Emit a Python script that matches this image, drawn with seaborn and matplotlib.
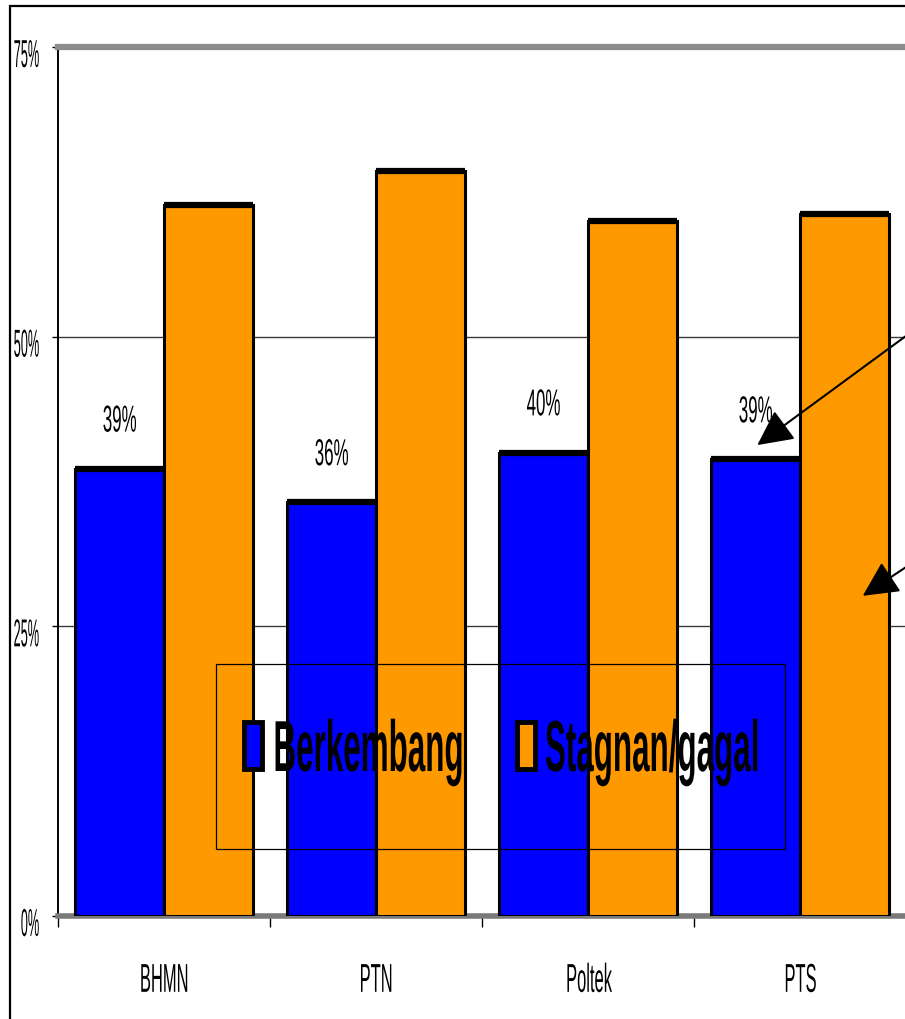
import matplotlib
matplotlib.use("Agg")
import matplotlib.pyplot as plt
import pandas as pd
import seaborn as sns
from matplotlib import font_manager
from matplotlib.patches import Rectangle
from matplotlib.patheffects import AbstractPathEffect
from matplotlib.transforms import Affine2D

# ---- data -------------------------------------------------------------
categories = ["BHMN", "PTN", "Poltek", "PTS"]
series_names = ["Berkembang", "Stagnan/gagal"]
berkembang = [38.6, 35.7, 40.0, 39.4]
stagnan = [61.4, 64.3, 60.0, 60.6]
y_ticks = [0, 25, 50, 75]
y_tick_labels = ["0%", "25%", "50%", "75%"]
colors = ["#0000FF", "#FF9900"]

df = pd.DataFrame({
    "kategori": categories * 2,
    "status": [series_names[0]] * len(categories) + [series_names[1]] * len(categories),
    "persen": berkembang + stagnan,
})

# ---- fonts ------------------------------------------------------------
try:
    font_manager.findfont(font_manager.FontProperties(family="Liberation Sans Narrow"),
                          fallback_to_default=False)
    FAMILY, NARROW = "Liberation Sans Narrow", 1.0
except ValueError:
    FAMILY, NARROW = "Liberation Sans", 0.82


class Condensed(AbstractPathEffect):
    """Squeeze text outlines horizontally around an anchor, with optional shift down (pt)."""

    def __init__(self, sx, anchor="center", dy=0.0):
        super().__init__()
        self._sx = sx * NARROW
        self._anchor = anchor
        self._dy = dy

    def draw_path(self, renderer, gc, tpath, affine, rgbFace=None):
        box = tpath.get_extents(affine)
        cx = {"left": box.x0, "center": 0.5 * (box.x0 + box.x1), "right": box.x1}[self._anchor]
        squeeze = (Affine2D().translate(-cx, 0).scale(self._sx, 1.0)
                   .translate(cx, -renderer.points_to_pixels(self._dy)))
        renderer.draw_path(gc, tpath, affine + squeeze, rgbFace)


sns.set_style("white")
plt.rcParams["font.family"] = [FAMILY, "DejaVu Sans"]
plt.rcParams.update({"text.color": "black", "xtick.color": "black",
                     "ytick.color": "black", "axes.labelcolor": "black"})

# ---- figure -----------------------------------------------------------
W, H = 905, 1019
fig = plt.figure(figsize=(W / 100, H / 100), dpi=100)
ax = fig.add_axes([58 / W, (H - 916) / H, (906 - 58) / W, (916 - 47) / H])

sns.barplot(data=df, x="kategori", y="persen", hue="status", order=categories,
            hue_order=series_names, palette=colors, saturation=1, width=0.835, gap=0,
            edgecolor="black", linewidth=2.2, legend=False, ax=ax, zorder=3)

ax.set_xlim(-0.5, len(categories) - 0.5)
ax.set_ylim(y_ticks[0], y_ticks[-1])

# heavier top edge on every bar
for cont in ax.containers:
    for bar in cont:
        ax.plot([bar.get_x(), bar.get_x() + bar.get_width()], [bar.get_height()] * 2,
                color="black", lw=4.5, solid_capstyle="butt", zorder=4)

# horizontal gridlines
for v in y_ticks[1:-1]:
    ax.axhline(v, color="#3a3a3a", lw=1.0, zorder=1)

# spines
for side in ["top", "bottom", "right", "left"]:
    ax.spines[side].set_visible(True)
ax.spines["top"].set_color("#8c8c8c")
ax.spines["top"].set_linewidth(4.5)
ax.spines["bottom"].set_color("#7a7a7a")
ax.spines["bottom"].set_linewidth(4)
ax.spines["right"].set_color("#9a9a9a")
ax.spines["right"].set_linewidth(2)
ax.spines["left"].set_color("black")
ax.spines["left"].set_linewidth(1.4)

# ticks
ax.set_yticks(y_ticks, labels=y_tick_labels)
ax.tick_params(axis="y", direction="out", length=4.3, width=1, color="black",
               pad=8.6, labelsize=28, labelcolor="black", left=True)
ax.set_xticks(range(len(categories)), labels=categories)
ax.set_xticks([i - 0.5 for i in range(len(categories))], minor=True)
ax.tick_params(axis="x", which="major", length=0, pad=33, labelsize=29, labelcolor="black")
ax.tick_params(axis="x", which="minor", direction="out", length=8, width=1,
               color="black", bottom=True)
ax.set_xlabel("")
ax.set_ylabel("")

for t in ax.get_yticklabels():
    t.set_path_effects([Condensed(0.40, "right", dy=4.3)])
for t in ax.get_xticklabels():
    t.set_path_effects([Condensed(0.50, "center")])

# value labels on the first series
labels = ax.bar_label(ax.containers[0], labels=[f"{v:.0f}%" for v in berkembang],
                      padding=21, fontsize=27, color="black")
for t in labels:
    t.set_path_effects([Condensed(0.55, "center")])

# legend: one entry per series inside a shared box
leg_y = (916 - 752) / 869
leg_x = [(244 - 58) / 848, (517 - 58) / 848]
legends = []
for cont, name, lx in zip(ax.containers, series_names, leg_x):
    lg = ax.legend([cont], [name], loc="center left", bbox_to_anchor=(lx, leg_y),
                   frameon=False, borderpad=0, borderaxespad=0, handlelength=0.25,
                   handleheight=0.62, handletextpad=0.12, labelcolor="black",
                   prop={"family": FAMILY, "weight": "bold", "size": 52})
    for h in lg.legend_handles:
        h.set_linewidth(3.5)
        h.set_edgecolor("black")
    for t in lg.get_texts():
        t.set_path_effects([Condensed(0.53, "left")])
    legends.append(lg)
for lg in legends[:-1]:
    ax.add_artist(lg)
ax.add_patch(Rectangle(((216 - 58) / 848, (916 - 849) / 869), (785 - 216) / 848,
                       (849 - 664) / 869, transform=ax.transAxes, fill=False,
                       edgecolor="black", lw=0.9, zorder=5))

# pointer arrows
arrow_kw = dict(arrowstyle="-|>,head_length=1.0,head_width=0.5", color="black",
                lw=1.5, mutation_scale=22)
ax.annotate("", xy=(2.788, 40.5), xytext=(3.54, 50.6), arrowprops=arrow_kw,
            annotation_clip=False, zorder=6)
ax.annotate("", xy=(3.285, 27.5), xytext=(3.54, 30.6), arrowprops=arrow_kw,
            annotation_clip=False, zorder=6)

# outer frame of the picture
fig.add_artist(Rectangle((10 / W, -0.05), 1.1, 1 - 6 / H + 0.05, transform=fig.transFigure,
                         fill=False, edgecolor="black", lw=1.6))

fig.savefig("out.png", dpi=100)
